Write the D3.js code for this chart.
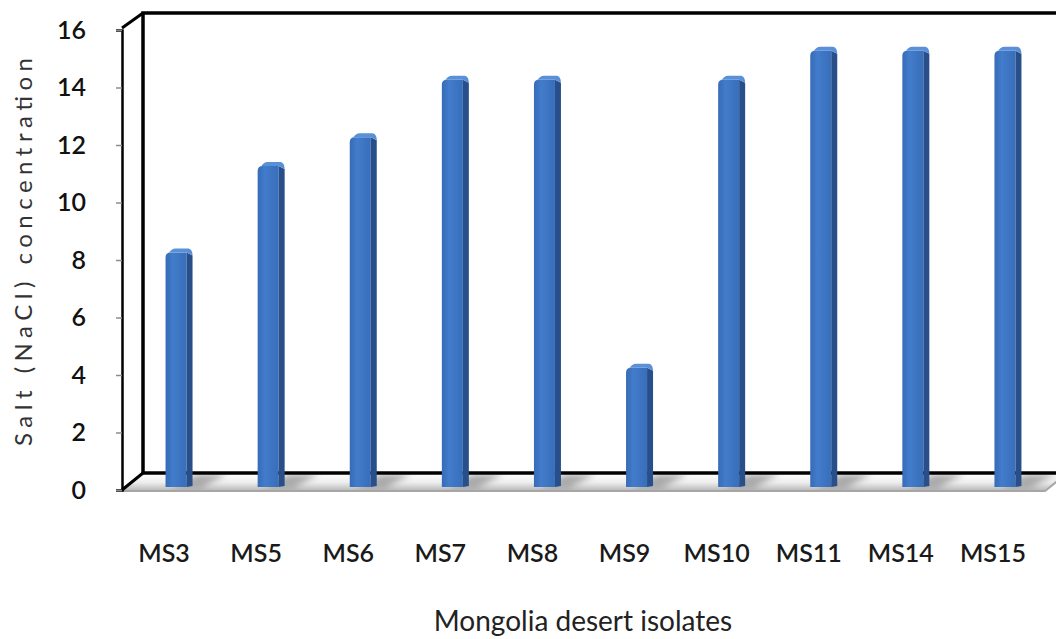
<!DOCTYPE html>
<html>
<head>
<meta charset="utf-8">
<script src="https://cdn.jsdelivr.net/npm/d3@7"></script>
<style>
  body { margin: 0; background: #fff; }
  svg { display: block; }
  .tick text { font-family: Lato, "Open Sans", sans-serif; }
</style>
</head>
<body>
<svg id="chart" width="1056" height="639"></svg>
<script>
var isolates = ["MS3", "MS5", "MS6", "MS7", "MS8", "MS9", "MS10", "MS11", "MS14", "MS15"];
var saltValues = [8, 11, 12, 14, 14, 4, 14, 15, 15, 15];
var yTicks = [0, 2, 4, 6, 8, 10, 12, 14, 16];

var svg = d3.select("#chart");
var defs = svg.append("defs");

// depth offset of the back wall (3d look)
var dx = 21, dy = -17;
var frontLeft = 122, frontRight = 1045, frontBottom = 490, frontTop = 30;

var x = d3.scaleBand().domain(isolates).range([118, 1039]);
var yFront = d3.scaleLinear().domain([0, 16]).range([frontBottom, frontTop]);
// bars sit half way into the depth
var yBar = d3.scaleLinear().domain([0, 16]).range([frontBottom - 7, frontTop - 8]);

// gradients
var fg = defs.append("linearGradient").attr("id", "floorGrad")
  .attr("x1", 0).attr("y1", 0).attr("x2", 0).attr("y2", 1);
fg.append("stop").attr("offset", "0%").attr("stop-color", "#ffffff");
fg.append("stop").attr("offset", "55%").attr("stop-color", "#eeeeee");
fg.append("stop").attr("offset", "100%").attr("stop-color", "#bdbdbd");

var bg = defs.append("linearGradient").attr("id", "barGrad")
  .attr("x1", 0).attr("y1", 0).attr("x2", 1).attr("y2", 0);
bg.append("stop").attr("offset", "0%").attr("stop-color", "#366bb8");
bg.append("stop").attr("offset", "35%").attr("stop-color", "#427cca");
bg.append("stop").attr("offset", "100%").attr("stop-color", "#386eba");

defs.append("filter").attr("id", "blur")
  .append("feGaussianBlur").attr("stdDeviation", 3);

// floor
svg.append("path")
  .attr("d", "M" + frontLeft + "," + frontBottom + "L" + frontRight + "," + frontBottom +
    "L" + (frontRight + dx) + "," + (frontBottom + dy) + "L" + (frontLeft + dx) + "," + (frontBottom + dy) + "Z")
  .attr("fill", "url(#floorGrad)");

// bar shadows on the floor
var bw = 27;
svg.append("g").selectAll("path")
  .data(isolates)
  .join("path")
  .attr("d", function(d) {
    var cx = x(d) + x.bandwidth() / 2 + 15;
    return "M" + (cx - 8) + "," + (frontBottom - 2) + "l" + 30 + ",0 l26,-14 l-30,0Z";
  })
  .attr("fill", "#7a7a7a").attr("opacity", 0.6).attr("filter", "url(#blur)");

// front floor edge
svg.append("path")
  .attr("d", "M" + frontLeft + "," + (frontBottom + 1) + "L" + frontRight + "," + (frontBottom + 1) +
    "L" + (frontRight + dx) + "," + (frontBottom + dy + 1))
  .attr("fill", "none").attr("stroke", "#a6a6a6").attr("stroke-width", 2);

// back wall frame
svg.append("path")
  .attr("d", "M" + (frontLeft + dx) + "," + (frontBottom + dy) + "L1056," + (frontBottom + dy))
  .attr("stroke", "#000").attr("stroke-width", 3.5);
svg.append("path")
  .attr("d", "M" + (frontLeft + dx) + "," + (frontBottom + dy) + "V" + (frontTop + dy) + "H1056")
  .attr("fill", "none").attr("stroke", "#000").attr("stroke-width", 3.5);
svg.append("path")
  .attr("d", "M" + frontLeft + "," + frontBottom + "L" + (frontLeft + dx) + "," + (frontBottom + dy) +
    "M" + frontLeft + "," + (frontTop - 2) + "L" + (frontLeft + dx) + "," + (frontTop + dy))
  .attr("fill", "none").attr("stroke", "#000").attr("stroke-width", 3);

// bars
var bars = svg.append("g").selectAll("g")
  .data(isolates)
  .join("g")
  .attr("transform", function(d) { return "translate(" + (x(d) + x.bandwidth() / 2 + 15 - bw / 2) + ",0)"; });

bars.each(function(d, i) {
  var g = d3.select(this);
  var top = yBar(saltValues[i]);
  var bottom = frontBottom - 3;
  var side = 6;
  // front face with rounded top-left
  g.append("path")
    .attr("d", "M0," + bottom + "V" + (top + 5) + "Q0," + top + " 5," + top + "H" + (bw - side) + "V" + bottom + "Z")
    .attr("fill", "url(#barGrad)");
  // side face
  g.append("path")
    .attr("d", "M" + (bw - side) + "," + bottom + "V" + top + "L" + bw + "," + (top + 3) + "V" + (bottom - 1) + "Z")
    .attr("fill", "#284f8a");
  // top cap
  g.append("path")
    .attr("d", "M3," + (top + 1) + "Q6," + (top - 4) + " 10," + (top - 4) + "H" + (bw - 4) + "Q" + bw + "," + (top - 3) + " " + bw + "," + (top + 3) +
      "L" + (bw - side) + "," + top + "H3Z")
    .attr("fill", "#5a90d8");
});

// front value axis
var yAxis = d3.axisLeft(yFront).tickValues(yTicks).tickSize(6).tickPadding(30);
var ag = svg.append("g").attr("transform", "translate(" + frontLeft + ",0)").call(yAxis);
ag.select(".domain").attr("stroke", "#000").attr("stroke-width", 2.5);
ag.selectAll(".tick line").attr("stroke", "#8c8c8c").attr("stroke-width", 1.5);
ag.selectAll(".tick text")
  .attr("font-size", 25).attr("font-weight", 600).attr("fill", "#111");

// category labels
svg.append("g").selectAll("text")
  .data(isolates)
  .join("text")
  .attr("x", function(d) { return x(d) + x.bandwidth() / 2; })
  .attr("y", 562)
  .attr("text-anchor", "middle")
  .attr("font-family", "Lato, sans-serif")
  .attr("font-size", 25).attr("font-weight", 600).attr("fill", "#1a1a1a")
  .text(function(d) { return d; });

// axis titles
svg.append("text")
  .attr("transform", "translate(32,252) rotate(-90)")
  .attr("text-anchor", "middle")
  .attr("font-family", "Lato, sans-serif")
  .attr("font-size", 24).attr("fill", "#333")
  .attr("textLength", 388).attr("lengthAdjust", "spacing")
  .text("Salt (NaCl) concentration");

svg.append("text")
  .attr("x", 583).attr("y", 631)
  .attr("text-anchor", "middle")
  .attr("font-family", "Lato, sans-serif")
  .attr("font-size", 28).attr("fill", "#222")
  .text("Mongolia desert isolates");
</script>
</body>
</html>
